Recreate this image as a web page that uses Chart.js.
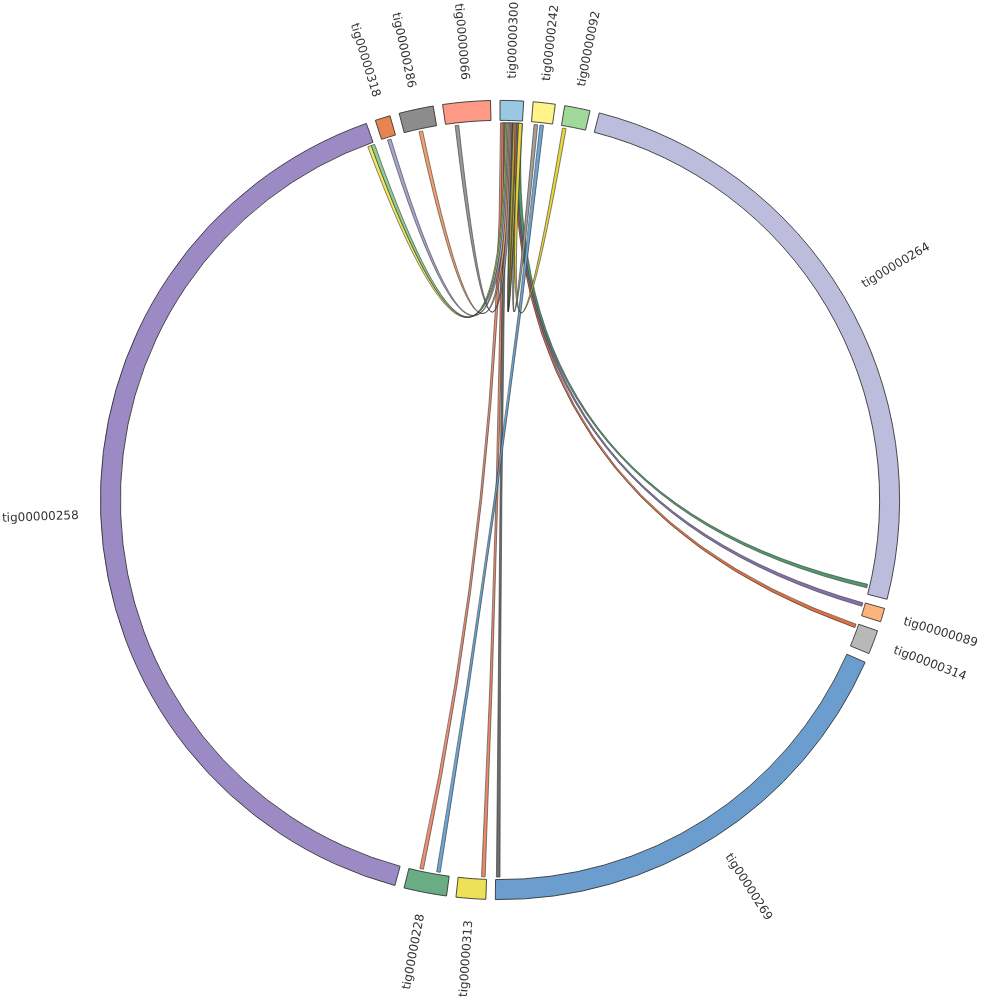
<!DOCTYPE html>
<html>
<head>
<meta charset="utf-8">
<script src="https://cdn.jsdelivr.net/npm/chart.js@4.4.0/dist/chart.umd.min.js"></script>
<style>
  html, body { margin: 0; padding: 0; background: #fff; }
  #wrap { width: 1000px; height: 1000px; }
</style>
</head>
<body>
<div id="wrap"><canvas id="circos" width="1000" height="1000"></canvas></div>
<script>
// contigs clockwise from the top, lengths in the same units as link positions
var contigs = ['tig00000300', 'tig00000242', 'tig00000092', 'tig00000264', 'tig00000089', 'tig00000314',
               'tig00000269', 'tig00000313', 'tig00000228', 'tig00000258', 'tig00000318', 'tig00000286', 'tig00000066'];
var contigLengths = [3.4, 3.2, 3.7, 90.0, 2.0, 3.5, 66.7, 4.3, 6.2, 145.2, 2.2, 5.0, 6.9];
var gapLength = 1.36;

// links between contigs (position measured from the contig start)
var linkFrom    = ['tig00000300', 'tig00000300', 'tig00000300', 'tig00000300', 'tig00000300', 'tig00000300',
                   'tig00000300', 'tig00000300', 'tig00000300', 'tig00000300', 'tig00000300', 'tig00000300',
                   'tig00000300', 'tig00000242', 'tig00000242', 'tig00000092'];
var linkFromPos = [0.35, 0.6, 0.85, 1.1, 1.3, 1.5, 1.7, 1.9, 2.1, 2.3, 2.55, 2.8, 3.05, 0.7, 1.6, 0.5];
var linkTo      = ['tig00000228', 'tig00000313', 'tig00000269', 'tig00000258', 'tig00000258', 'tig00000318',
                   'tig00000286', 'tig00000066', 'tig00000300', 'tig00000300', 'tig00000314', 'tig00000089',
                   'tig00000264', 'tig00000300', 'tig00000228', 'tig00000300'];
var linkToPos   = [4.3, 0.5, 66.3, 144.5, 145.05, 1.1, 2.5, 1.7, 2.9, 2.7, 0.4, 0.35, 88.8, 3.15, 1.7, 3.1];

// colours
var contigColors = ['#9ac8e2', '#fef48a', '#a1d99b', '#bcbddc', '#fdb47c', '#b8b8b8',
                    '#6b9ecf', '#ece157', '#6aad84', '#9b8ac3', '#e6854f', '#8c8c8c', '#fc9a85'];
var linkColors = ['#f28e74', '#ee8866', '#6e6e6e', '#f0e860', '#8fcf8f', '#a8a4d0', '#f7a06c', '#999999',
                  '#555555', '#b5a83a', '#e07040', '#8470b0', '#4f9a6a', '#a0a0a0', '#6aa6d8', '#e8d83a'];

var linkWidth = 0.55;

// doughnut data: every contig followed by an empty gap slice
var ringData = [], ringColors = [], ringBorders = [], ringLabels = [];
contigs.forEach(function(name, i) {
    ringData.push(contigLengths[i], gapLength);
    ringColors.push(contigColors[i], 'rgba(0,0,0,0)');
    ringBorders.push('#222', 'rgba(0,0,0,0)');
    ringLabels.push(name, '');
});

var ribbonPlugin = {
    id: 'ribbons',
    afterDatasetsDraw: function(chart) {
        var arcs = chart.getDatasetMeta(0).data;
        var ctx = chart.ctx;
        var cx = arcs[0].x, cy = arcs[0].y;
        var r = arcs[0].innerRadius - 2.5;

        function angleAt(name, pos) {
            var i = contigs.indexOf(name);
            var a = arcs[i * 2];
            return a.startAngle + pos / contigLengths[i] * (a.endAngle - a.startAngle);
        }

        ctx.save();
        ctx.lineWidth = 0.6;
        ctx.strokeStyle = '#333';
        for (var k = 0; k < linkFrom.length; k++) {
            var s0 = angleAt(linkFrom[k], linkFromPos[k] - linkWidth / 2);
            var s1 = angleAt(linkFrom[k], linkFromPos[k] + linkWidth / 2);
            var t0 = angleAt(linkTo[k], linkToPos[k] - linkWidth / 2);
            var t1 = angleAt(linkTo[k], linkToPos[k] + linkWidth / 2);
            ctx.beginPath();
            ctx.arc(cx, cy, r, s0, s1);
            ctx.quadraticCurveTo(cx, cy, cx + r * Math.cos(t0), cy + r * Math.sin(t0));
            ctx.arc(cx, cy, r, t0, t1);
            ctx.quadraticCurveTo(cx, cy, cx + r * Math.cos(s0), cy + r * Math.sin(s0));
            ctx.closePath();
            ctx.fillStyle = linkColors[k];
            ctx.fill();
            ctx.stroke();
        }
        ctx.restore();
    }
};

var labelPlugin = {
    id: 'contigLabels',
    afterDraw: function(chart) {
        var arcs = chart.getDatasetMeta(0).data;
        var ctx = chart.ctx;
        ctx.save();
        ctx.font = '12px "DejaVu Sans"';
        ctx.fillStyle = '#333';
        ctx.textBaseline = 'middle';
        contigs.forEach(function(name, i) {
            var a = arcs[i * 2];
            var mid = (a.startAngle + a.endAngle) / 2;
            var r = a.outerRadius + 22;
            ctx.save();
            ctx.translate(a.x + r * Math.cos(mid), a.y + r * Math.sin(mid));
            if (Math.cos(mid) >= 0) {
                ctx.rotate(mid);
                ctx.textAlign = 'left';
            } else {
                ctx.rotate(mid + Math.PI);
                ctx.textAlign = 'right';
            }
            ctx.fillText(name, 0, 0);
            ctx.restore();
        });
        ctx.restore();
    }
};

var ctx = document.getElementById('circos').getContext('2d');
var chart = new Chart(ctx, {
    type: 'doughnut',
    data: {
        labels: ringLabels,
        datasets: [{
            data: ringData,
            backgroundColor: ringColors,
            borderColor: ringBorders,
            borderWidth: 0.8
        }]
    },
    options: {
        responsive: false,
        animation: false,
        rotation: 0,
        cutout: '95%',
        layout: { padding: 100 },
        plugins: {
            legend: { display: false },
            tooltip: { enabled: false }
        }
    },
    plugins: [ribbonPlugin, labelPlugin]
});
</script>
</body>
</html>
